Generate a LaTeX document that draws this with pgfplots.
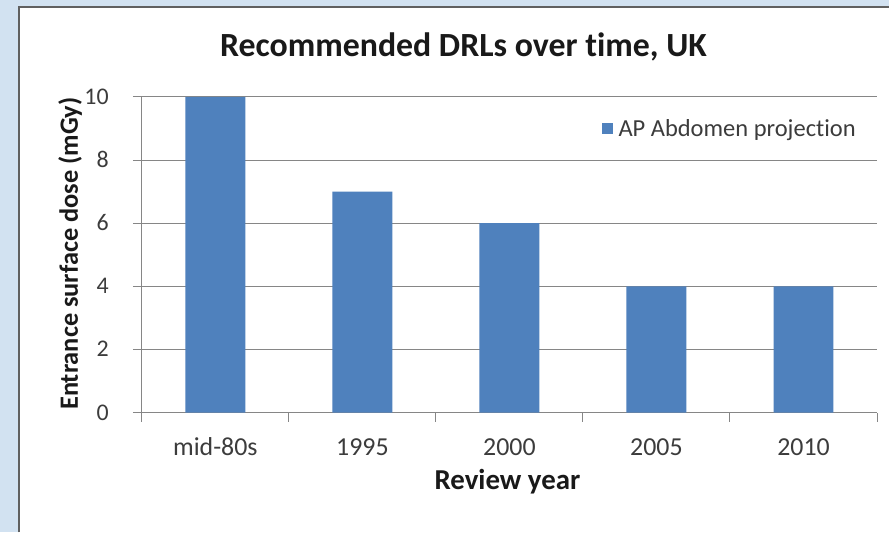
\documentclass[border=0pt]{standalone}
\usepackage{pgfplots}
\pgfplotsset{compat=1.18}
\usepackage{fontspec}
\setmainfont{Carlito}[Ligatures={NoCommon}]
\definecolor{bgblue}{RGB}{210,226,241}
\definecolor{barblue}{RGB}{79,129,189}
\definecolor{axisgray}{RGB}{134,134,134}
\definecolor{ticktext}{RGB}{60,60,60}

\begin{document}
\begin{tikzpicture}
% slide background and chart panel
\fill[bgblue] (0bp,0bp) rectangle (890bp,533bp);
\fill[white] (18bp,0bp) rectangle (890bp,527bp);
\draw[gray!75!black, line width=2bp] (19bp,0bp) -- (19bp,526bp) -- (890bp,526bp);

\begin{axis}[
  at={(142bp,120bp)}, anchor=south west,
  scale only axis, width=736bp, height=316bp,
  xmin=-0.5, xmax=4.5, ymin=0, ymax=10,
  ybar, bar width=60bp,
  axis x line*=bottom, axis y line*=left,
  axis line style={axisgray, line width=1bp, -},
  ytick={0,2,...,10},
  ymajorgrids, grid style={axisgray, line width=1bp},
  xtick={-0.5,0.5,...,4.5}, xticklabels={},
  extra x ticks={0,1,2,3,4},
  extra x tick labels={mid-80s,1995,2000,2005,2010},
  extra x tick style={major tick length=0pt},
  tick align=outside, major tick length=9bp,
  tick style={axisgray, line width=1bp},
  /pgf/number format/assume math mode=true,
  yticklabel style={font=\fontsize{24}{28}\selectfont, text=ticktext,
    anchor=base east, inner sep=0pt, xshift=-24bp, yshift=-7.5bp},
  xticklabel style={font=\fontsize{26}{30}\selectfont, text=ticktext,
    anchor=base, inner sep=0pt, yshift=-43bp},
  legend style={at={(0.625,0.899)}, anchor=west, draw=none, fill=none,
    font=\fontsize{24.6}{28}\selectfont, text=ticktext, inner sep=0pt,
    column sep=4bp, legend cell align=left},
  legend image code/.code={\fill[#1] (0bp,-5.5bp) rectangle (11bp,5.5bp);},
]
\addplot[fill=barblue, draw=none] coordinates {(0,10) (1,7) (2,6) (3,4) (4,4)};
\addlegendentry{AP Abdomen projection}
\end{axis}

% titles
\node[font=\bfseries\fontsize{34}{40}\selectfont, anchor=base, text=black!90]
  at (464bp,476bp) {Recommended DRLs over time, UK};
\node[font=\bfseries\fontsize{29}{34}\selectfont, anchor=base, text=black!90]
  at (508bp,43bp) {Review year};
\node[font=\bfseries\fontsize{26.5}{32}\selectfont, anchor=base, rotate=90, text=black!90]
  at (78bp,279bp) {Entrance surface dose (mGy)};
\end{tikzpicture}
\end{document}
